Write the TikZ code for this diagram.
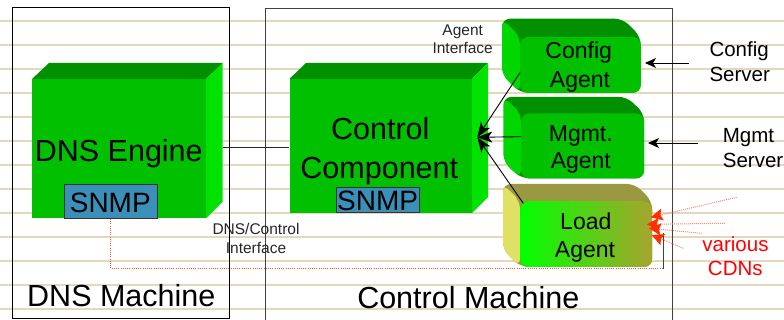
\documentclass[tikz,border=0pt]{standalone}
\usepackage{fontspec}
\setmainfont{Liberation Sans}
\usetikzlibrary{arrows.meta}
\definecolor{rulec}{RGB}{226,216,190}
\definecolor{gfront}{RGB}{0,192,0}
\definecolor{gtop}{RGB}{0,144,0}
\definecolor{gside}{RGB}{0,226,0}
\definecolor{aside}{RGB}{0,214,0}
\definecolor{snmpblue}{RGB}{58,144,184}
\definecolor{olivec}{RGB}{168,164,46}
\definecolor{olivemid}{RGB}{110,205,36}
\definecolor{olivetop}{RGB}{154,152,64}
\definecolor{yside}{RGB}{224,224,100}
\definecolor{cdnred}{RGB}{255,48,0}
\definecolor{dotred}{RGB}{245,85,55}
\definecolor{boxgray}{RGB}{64,64,64}
\begin{document}
\begin{tikzpicture}[x=1pt,y=-1pt,
  big/.style={font=\fontsize{30.5}{36}\selectfont, inner sep=0pt, anchor=base},
  mid/.style={font=\fontsize{23}{28}\selectfont, inner sep=0pt, anchor=base},
  srv/.style={font=\fontsize{20.5}{25}\selectfont, inner sep=0pt, anchor=base west},
  cdn/.style={font=\fontsize{20.5}{25}\selectfont, inner sep=0pt, anchor=base, text=red},
  small/.style={font=\fontsize{15.5}{19}\selectfont, inner sep=0pt, anchor=base, text=black!85},
  snmpt/.style={font=\fontsize{28}{32}\selectfont, inner sep=0pt, anchor=base},
  frontbox/.style={fill=gfront, draw=none, inner sep=0pt, anchor=north west},
  agentfront/.style={fill=gfront, draw=none, rounded corners=8pt, inner sep=0pt, anchor=north west},
  snmpbox/.style={fill=snmpblue, draw=black!80, line width=0.8pt, inner sep=0pt, anchor=north west},
  blkarrow/.style={draw=black, line width=0.9pt, -{Stealth[length=15pt,width=11pt,inset=4pt]}},
  srvarrow/.style={draw=black, line width=0.9pt, -{Stealth[length=11pt,width=10pt,inset=3pt]}},
  cdnarrow/.style={draw=dotred!70, line width=1pt, dash pattern=on 1pt off 1pt, -{Stealth[length=12pt,width=12pt,inset=2pt,color=cdnred]}},
  reddot/.style={draw=dotred, line width=1pt, dash pattern=on 1pt off 1.2pt},
  conn/.style={draw=black!85, line width=0.9pt}]
\useasboundingbox (0,0) rectangle (784,320);
\fill[white] (0,0) rectangle (784,320);
% ruled background
\foreach \k in {0,...,12}
  \draw[rulec, line width=2pt] (0,{20.7+24.05*\k}) -- (784,{20.7+24.05*\k});

% machine frames
\draw[black, line width=1pt] (12,7.3) rectangle (229,318.3);
\draw[boxgray, line width=1pt] (265,8.3) rectangle (672.3,330);

% DNS engine 3D box
\fill[gtop] (32,79) -- (49,63) -- (222.7,63) -- (206,79) -- cycle;
\fill[gside] (206,79) -- (222.7,63) -- (222.7,201.7) -- (206,218.3) -- cycle;
\node[frontbox, minimum width=174pt, minimum height=139.3pt] (dnseng) at (32,79) {};
\node[big] (dnsengt) at (118.8,161.7) {DNS Engine};
\node[snmpbox, minimum width=92.7pt, minimum height=34pt] (dsnmp) at (64,184.3) {};
\node[snmpt] (dsnmpt) at (110.3,213) {SNMP};

% Control component 3D box
\fill[gtop] (289.3,79) -- (306,63) -- (488,63) -- (471.7,79) -- cycle;
\fill[gside] (471.7,79) -- (488,63) -- (488,197) -- (471.7,213.3) -- cycle;
\node[frontbox, minimum width=182.4pt, minimum height=134.3pt] (ctrl) at (289.3,79) {};
\node[big] (ctrlt1) at (380.3,140) {Control};
\node[big] (ctrlt2) at (379.3,178.3) {Component};
\node[snmpbox, minimum width=83.3pt, minimum height=25pt] (csnmp) at (336,186.7) {};
\node[snmpt] (csnmpt) at (377.6,210.3) {SNMP};

% Config agent
\fill[gtop, rounded corners=8pt] (502,18.7) -- (622.7,18.7) -- (640.7,36.7) -- (640.7,92.7) -- (520,92.7) -- (502,74.7) -- cycle;
\fill[aside, rounded corners=8pt] (502,18.7) -- (520,36.7) -- (520,92.7) -- (502,74.7) -- cycle;
\node[agentfront, minimum width=120.7pt, minimum height=56pt] (cfg) at (520,36.7) {};
\node[mid] (cfgt1) at (578.7,58.3) {Config};
\node[mid] (cfgt2) at (580,87.3) {Agent};

% Mgmt agent
\fill[gtop, rounded corners=8pt] (503.5,96.8) -- (626.5,96.8) -- (644,113.3) -- (644,178.3) -- (521,178.3) -- (503.5,161.8) -- cycle;
\fill[aside, rounded corners=8pt] (503.5,96.8) -- (521,113.3) -- (521,178.3) -- (503.5,161.8) -- cycle;
\node[agentfront, minimum width=123pt, minimum height=65pt] (mgmt) at (521,113.3) {};
\node[mid] (mgmtt1) at (580.8,141.7) {Mgmt.};
\node[mid] (mgmtt2) at (580.8,168.3) {Agent};

% Load agent
\fill[olivetop, rounded corners=8pt] (503,184) -- (635,184) -- (652,201) -- (652,266.7) -- (520,266.7) -- (503,249.7) -- cycle;
\fill[yside, rounded corners=8pt] (503,184) -- (520,201) -- (520,266.7) -- (503,249.7) -- cycle;
\node[agentfront, left color=green, middle color=olivemid, right color=olivec, minimum width=132pt, minimum height=65.7pt] (load) at (520,201) {};
\node[mid] (loadt1) at (585.8,230) {Load};
\node[mid] (loadt2) at (585,257.7) {Agent};

% labels
\node[small] (agif1) at (462.7,36) {Agent};
\node[small] (agif2) at (462.7,54) {Interface};
\node[small] (dcif1) at (256,235) {DNS/Control};
\node[small] (dcif2) at (256,253.3) {Interface};
\node[big] (dnsm) at (121.3,306) {DNS Machine};
\node[big] (ctlm) at (468.3,308.3) {Control Machine};
\node[srv] (cs1) at (709.3,56.7) {Config};
\node[srv] (cs2) at (709.3,81.7) {Server};
\node[srv] (ms1) at (722.7,142.7) {Mgmt};
\node[srv] (ms2) at (722.7,167.7) {Server};
\node[cdn] (cdn1) at (735.5,251.7) {various};
\node[cdn] (cdn2) at (735.3,276) {CDNs};

% connectors
\coordinate (dnsR) at (222.7,147);
\coordinate (ctrlL) at (289.3,147);
\draw[conn] (dnsR) -- (ctrlL);

\coordinate (ccIn) at (477.3,137.3);
\coordinate (cfgOut) at (520,72.7);
\coordinate (mgmtOut) at (520.5,136.7);
\coordinate (loadOut) at (523.3,203.3);
\draw[blkarrow] (cfgOut) -- (ccIn);
\draw[blkarrow] (mgmtOut) -- (ccIn);
\draw[blkarrow] (loadOut) -- (ccIn);

\coordinate (csFrom) at (689,63);
\coordinate (csTo) at (645,63);
\coordinate (msFrom) at (698,143);
\coordinate (msTo) at (648,143);
\draw[srvarrow] (csFrom) -- (csTo);
\draw[srvarrow] (msFrom) -- (msTo);

% SNMP feedback line
\coordinate (fbCorner) at (663.3,268.7);
\coordinate (fbTop) at (663.3,232.7);
\draw[reddot] (dsnmp.south) |- (fbCorner);
\draw[boxgray, line width=1pt] (fbCorner) -- (fbTop);

% various CDNs
\coordinate (c1a) at (736.7,197.3);
\coordinate (c1b) at (650.7,217.3);
\coordinate (c2a) at (725,223.3);
\coordinate (c2b) at (646.7,224.3);
\coordinate (c3a) at (701.7,233.3);
\coordinate (c3b) at (649,228.3);
\coordinate (c4a) at (683.3,248.3);
\coordinate (c4b) at (651.7,235);
\draw[cdnarrow] (c1a) -- (c1b);
\draw[cdnarrow] (c2a) -- (c2b);
\draw[cdnarrow] (c3a) -- (c3b);
\draw[cdnarrow] (c4a) -- (c4b);
\end{tikzpicture}
\end{document}
